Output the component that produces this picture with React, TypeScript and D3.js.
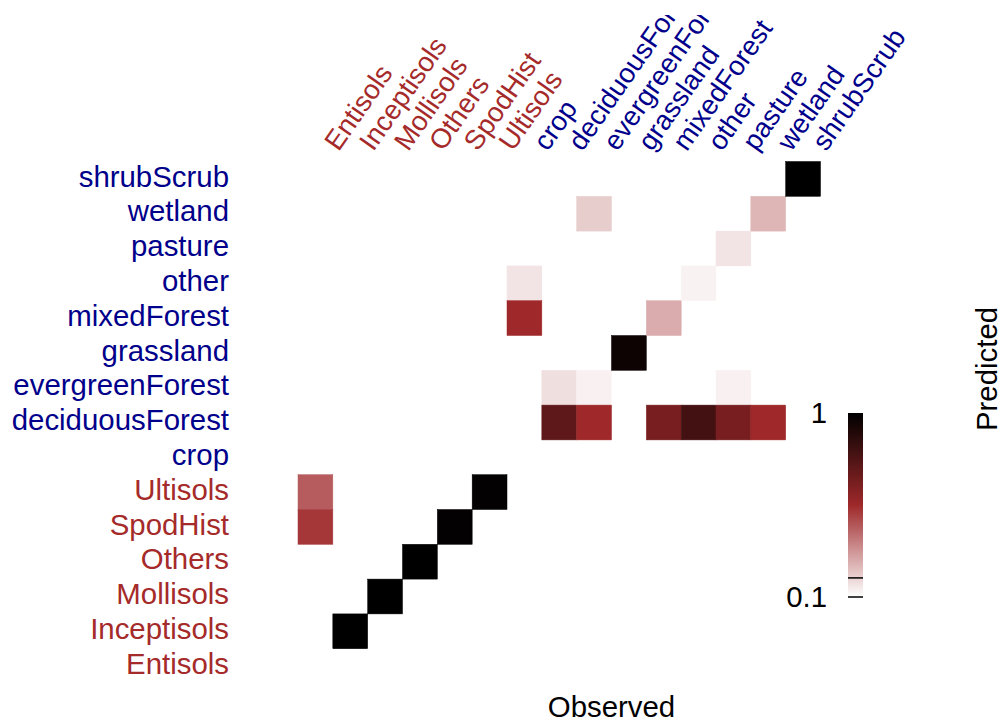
import React from "react";
import * as d3 from "d3";

const soilClasses = ["Entisols", "Inceptisols", "Mollisols", "Others", "SpodHist", "Ultisols"];
const landClasses = ["crop", "deciduousForest", "evergreenForest", "grassland", "mixedForest", "other", "pasture", "wetland", "shrubScrub"];
const categories = [...soilClasses, ...landClasses];

// one entry per drawn cell: observed class (column), predicted class (row), proportion
const cellObserved = [
  "Entisols", "Entisols", "Inceptisols", "Mollisols", "Others", "SpodHist", "Ultisols",
  "crop", "crop", "deciduousForest", "deciduousForest", "evergreenForest", "evergreenForest", "evergreenForest",
  "grassland", "mixedForest", "mixedForest", "other", "other", "pasture", "pasture", "pasture",
  "wetland", "wetland", "shrubScrub",
];
const cellPredicted = [
  "Ultisols", "SpodHist", "Inceptisols", "Mollisols", "Others", "SpodHist", "Ultisols",
  "other", "mixedForest", "evergreenForest", "deciduousForest", "wetland", "evergreenForest", "deciduousForest",
  "grassland", "mixedForest", "deciduousForest", "other", "deciduousForest", "pasture", "evergreenForest", "deciduousForest",
  "wetland", "deciduousForest", "shrubScrub",
];
const cellValues = [
  0.239, 0.292, 1.0, 1.0, 1.0, 0.98, 0.98,
  0.116, 0.316, 0.119, 0.5, 0.131, 0.108, 0.316,
  0.91, 0.156, 0.417, 0.107, 0.61, 0.116, 0.108, 0.417,
  0.148, 0.316, 1.0,
];

const colorbarLabels = [1, 0.1];
const colorbarTickValues = [0.127, 0.1];

const FONT = "'Liberation Sans', Arial, Helvetica, sans-serif";
const RED_TEXT = "#a52a2a";
const BLUE_TEXT = "#00008b";
const FS = 29.4;
const FS_TOP = 27.5;
const ANGLE = 55;

export default function App() {
  const width = 1002;
  const height = 724;
  const x = d3.scaleBand<string>().domain(categories).range([298, 820.5]);
  const y = d3.scaleBand<string>().domain(categories).range([683.5, 161.5]);

  const tScale = d3.scaleLog().domain([0.1, 1]).range([0, 1]).clamp(true);
  const ramp = d3
    .scaleLinear<string>()
    .domain([0, 0.5, 1])
    .range(["#ffffff", "#9e282a", "#000000"])
    .interpolate(d3.interpolateRgb);
  const color = (v: number) => ramp(tScale(v));

  const barY = d3.scaleLog().domain([0.1, 1]).range([597, 413]);
  const barX = 848;
  const barW = 15;
  const stops = d3.range(0, 1.0001, 0.05);

  const labelColor = (c: string) => (soilClasses.includes(c) ? RED_TEXT : BLUE_TEXT);

  const cells = cellValues.map((v, i) => ({ obs: cellObserved[i], pred: cellPredicted[i], v }));

  return (
    <svg
      width={width}
      height={height}
      style={{ position: "absolute", left: 0, top: 0, background: "#fff" }}
      fontFamily={FONT}
    >
      <defs>
        <clipPath id="topclip">
          <rect x={0} y={15} width={width} height={height} />
        </clipPath>
        <linearGradient id="cbar" x1="0" y1="1" x2="0" y2="0">
          {stops.map((s) => (
            <stop key={s} offset={s} stopColor={ramp(s)} />
          ))}
        </linearGradient>
      </defs>
      <rect x={0} y={0} width={width} height={height} fill="#fff" />

      {cells.map((c, i) => (
        <rect
          key={i}
          x={x(c.obs)}
          y={y(c.pred)}
          width={x.bandwidth()}
          height={y.bandwidth()}
          fill={color(c.v)}
          stroke={color(c.v)}
          strokeWidth={0.5}
        />
      ))}

      {categories.map((c) => (
        <text
          key={"y" + c}
          x={229}
          y={(y(c) as number) + y.bandwidth() / 2}
          dy="0.26em"
          textAnchor="end"
          fontSize={FS}
          fill={labelColor(c)}
        >
          {c}
        </text>
      ))}

      <g clipPath="url(#topclip)">
        {categories.map((c) => {
          const ax = (x(c) as number) + x.bandwidth() / 2 + 15;
          const ay = 146.5;
          return (
            <text
              key={"x" + c}
              transform={`translate(${ax},${ay}) rotate(${-ANGLE})`}
              dy="0.36em"
              textAnchor="start"
              fontSize={FS_TOP}
              fill={labelColor(c)}
            >
              {c}
            </text>
          );
        })}
      </g>

      <rect x={barX} y={barY(1)} width={barW} height={barY(0.1) - barY(1)} fill="url(#cbar)" />
      {colorbarTickValues.map((v) => (
        <line key={"t" + v} x1={barX} x2={barX + barW} y1={barY(v)} y2={barY(v)} stroke="#000" strokeWidth={1.5} />
      ))}
      {colorbarLabels.map((v) => (
        <text key={"l" + v} x={827} y={barY(v)} dy="0.33em" textAnchor="end" fontSize={FS} fill="#000">
          {String(v)}
        </text>
      ))}

      <text x={611.5} y={717} textAnchor="middle" fontSize={FS} fill="#000">
        Observed
      </text>
      <text transform="translate(997,369) rotate(-90)" textAnchor="middle" fontSize={FS} fill="#000">
        Predicted
      </text>
    </svg>
  );
}
